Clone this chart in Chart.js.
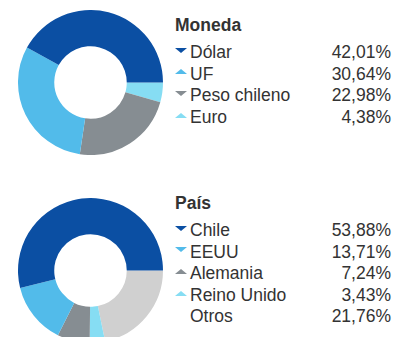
<!DOCTYPE html>
<html>
<head>
<meta charset="utf-8">
<script src="https://cdn.jsdelivr.net/npm/chart.js@4/dist/chart.umd.min.js"></script>
<style>
  html, body { margin: 0; padding: 0; background: #fff; overflow: hidden; }
  body { width: 393px; height: 337px; position: relative; font-family: "Liberation Sans", Arial, sans-serif; color: #333; }
  canvas { position: absolute; }
  #monedaChart { left: 18px; top: 10px; }
  #paisChart { left: 18px; top: 198px; }
  .legend { position: absolute; left: 175px; width: 216px; font-size: 17.5px; }
  .legend h3 { margin: 0 0 7px 0; font-size: 17.5px; font-weight: bold; line-height: 20px; }
  .row { display: flex; align-items: center; height: 21.6px; line-height: 21.6px; }
  .tri { width: 0; height: 0; border-left: 6px solid transparent; border-right: 6px solid transparent; margin-right: 3px; margin-top: -5px; }
  .tri.down { border-top: 5px solid; }
  .tri.up { border-bottom: 5px solid; }
  .tri.none { border: none; width: 12px; }
  .lbl { flex: 1; }
  .val { text-align: right; }
</style>
</head>
<body>
<canvas id="monedaChart" width="145" height="145"></canvas>
<canvas id="paisChart" width="145" height="145"></canvas>
<div class="legend" id="monedaLegend" style="top:15px"></div>
<div class="legend" id="paisLegend" style="top:193px"></div>
<script>
// Moneda
const monedaLabels = ['Dólar', 'UF', 'Peso chileno', 'Euro'];
const monedaValues = [42.01, 30.64, 22.98, 4.38];
const monedaColors = ['#0b4fa3', '#52bbea', '#868d92', '#86ddf3'];
const monedaArrows = ['down', 'up', 'down', 'up'];

// País
const paisLabels = ['Chile', 'EEUU', 'Alemania', 'Reino Unido', 'Otros'];
const paisValues = [53.88, 13.71, 7.24, 3.43, 21.76];
const paisColors = ['#0b4fa3', '#52bbea', '#868d92', '#86ddf3', '#d0d0d0'];
const paisArrows = ['down', 'down', 'up', 'up', 'none'];

function fmt(v) {
    return v.toFixed(2).replace('.', ',') + '%';
}

// slices run counter-clockwise from 3 o'clock, so feed them reversed
function donut(id, labels, values, colors) {
    const ctx = document.getElementById(id).getContext('2d');
    new Chart(ctx, {
        type: 'doughnut',
        data: {
            labels: labels.slice().reverse(),
            datasets: [{
                data: values.slice().reverse(),
                backgroundColor: colors.slice().reverse(),
                borderWidth: 0
            }]
        },
        options: {
            responsive: false,
            animation: false,
            rotation: 90,
            cutout: '50%',
            plugins: {
                legend: { display: false },
                tooltip: { enabled: false }
            }
        }
    });
}

function legend(id, title, labels, values, colors, arrows) {
    let html = `<h3>${title}</h3>`;
    labels.forEach((label, i) => {
        const c = colors[i];
        html += `<div class="row"><span class="tri ${arrows[i]}" style="color:${c}"></span>` +
            `<span class="lbl">${label}</span><span class="val">${fmt(values[i])}</span></div>`;
    });
    document.getElementById(id).innerHTML = html;
}

donut('monedaChart', monedaLabels, monedaValues, monedaColors);
donut('paisChart', paisLabels, paisValues, paisColors);
legend('monedaLegend', 'Moneda', monedaLabels, monedaValues, monedaColors, monedaArrows);
legend('paisLegend', 'País', paisLabels, paisValues, paisColors, paisArrows);
</script>
</body>
</html>
